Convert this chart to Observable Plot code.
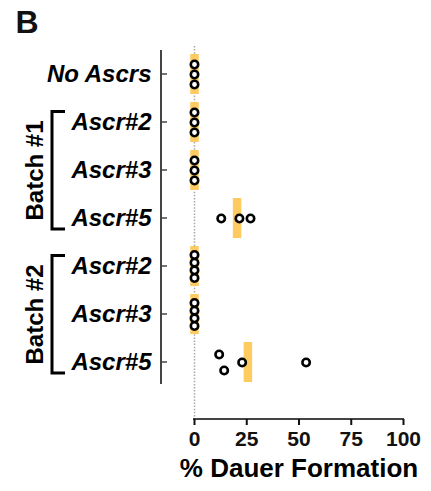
<!DOCTYPE html>
<html><head><meta charset="utf-8">
<script src="https://cdn.jsdelivr.net/npm/d3@7"></script>
<script src="https://cdn.jsdelivr.net/npm/@observablehq/plot@0.6"></script>
<style>body{margin:0;background:#fff} #chart svg{display:block}</style>
</head><body><div id="chart"></div>
<script>
// ---- data ----
const conditions = ["none", "b1-2", "b1-3", "b1-5", "b2-2", "b2-3", "b2-5"];
const conditionLabels = ["No Ascrs", "Ascr#2", "Ascr#3", "Ascr#5", "Ascr#2", "Ascr#3", "Ascr#5"];
const replicateValues = [
  [0, 0, 0],
  [0, 0, 0],
  [0, 0, 0],
  [12.8, 21.5, 26.8],
  [0, 0, 0, 0],
  [0, 0, 0, 0],
  [11.8, 14.2, 22.8, 53.4]
];
const batchNames = ["Batch #1", "Batch #2"];
const batchMembers = [["b1-2", "b1-3", "b1-5"], ["b2-2", "b2-3", "b2-5"]];
const xTicks = [0, 25, 50, 75, 100];
const xLabel = "% Dauer Formation";
const panelLetter = "B";

// ---- derived tables ----
const labelOf = new Map(conditions.map((c, i) => [c, conditionLabels[i]]));
const means = conditions.map((c, i) => ({key: c, mean: d3.mean(replicateValues[i])}));

// simple Prism-like vertical spreading of overlapping points
const points = [];
conditions.forEach((c, i) => {
  const vals = replicateValues[i].slice().sort((a, b) => a - b);
  const clusters = [];
  vals.forEach(v => {
    const last = clusters[clusters.length - 1];
    if (last && v - last[last.length - 1] < 4.5) last.push(v); else clusters.push([v]);
  });
  clusters.forEach(cl => {
    const n = cl.length;
    const gap = n === 1 ? 0 : n === 2 ? 16 : Math.min(10, 23 / (n - 1));
    cl.forEach((v, j) => points.push({key: c, value: v, off: +((j - (n - 1) / 2) * gap).toFixed(2)}));
  });
});
const offsets = Array.from(new Set(points.map(p => p.off)));

const batches = batchNames.map((name, i) => ({
  name, first: batchMembers[i][0], mid: batchMembers[i][1], last: batchMembers[i][batchMembers[i].length - 1]
}));

const font = "'Liberation Sans', Arial, Helvetica, sans-serif";

// custom axis lines & brackets drawn from the plot's scales
function axisLines(index, scales, values, dim) {
  const {x, y} = scales;
  const g = d3.create("svg:g");
  const ml = dim.marginLeft;
  const yAxisX = ml - 33;
  const bw = y.bandwidth();
  const [r0, r1] = y.range();
  g.append("line").attr("x1", yAxisX).attr("x2", yAxisX).attr("y1", r0).attr("y2", r1 - 2)
    .attr("stroke", "#444").attr("stroke-width", 2);
  for (const c of conditions) {
    const cy = y(c) + bw / 2;
    g.append("line").attr("x1", yAxisX).attr("x2", yAxisX + 6).attr("y1", cy).attr("y2", cy)
      .attr("stroke", "#444").attr("stroke-width", 1.5);
  }
  const by = dim.height - dim.marginBottom;
  g.append("line").attr("x1", x(0) - 1).attr("x2", x(100) + 1).attr("y1", by).attr("y2", by)
    .attr("stroke", "#444").attr("stroke-width", 2);
  for (const b of batches) {
    const top = y(b.first) + bw / 2 - 10.5;
    const bot = y(b.last) + bw / 2 + 11;
    const xv = ml - 142, xh = ml - 129;
    g.append("path").attr("d", `M${xh},${top}H${xv}V${bot}H${xh}`)
      .attr("fill", "none").attr("stroke", "#000").attr("stroke-width", 3);
  }
  return g.node();
}

const marks = [
  Plot.ruleX([0], {stroke: "#a8a8a8", strokeWidth: 1.5, strokeDasharray: "1.5,1.6"}),
  Plot.tickX(means, {x: "mean", y: "key", stroke: "#FDCB60", strokeWidth: 8.5}),
  ...offsets.map(o => Plot.dot(points.filter(p => p.off === o), {
    x: "value", y: "key", dy: o, r: 3.7, fill: "#fff", stroke: "#000", strokeWidth: 2.6
  })),
  axisLines,
  Plot.axisX(xTicks, {tickSize: 6, tickPadding: 6, fontSize: 21, fontWeight: "bold", label: null, strokeWidth: 2, color: "#111"}),
  Plot.axisY({tickSize: 0, tickPadding: 43, fontSize: 24, fontWeight: "bold", fontStyle: "italic",
    tickFormat: k => labelOf.get(k), label: null, color: "#000"}),
  Plot.text([xLabel], {frameAnchor: "bottom", dy: 49.5, fontSize: 26, fontWeight: "bold", lineAnchor: "middle", fill: "#000"}),
  Plot.text(batches, {y: "mid", text: "name", frameAnchor: "left", rotate: -90, textAnchor: "middle",
    dx: -159, fontSize: 24, fontWeight: "bold", fill: "#000"}),
  Plot.text([panelLetter], {frameAnchor: "top-left", textAnchor: "start", lineAnchor: "top",
    dx: -179, dy: -36, fontSize: 32, fontWeight: "bold", fill: "#111"})
];

const chart = Plot.plot({
  width: 431,
  height: 491,
  marginLeft: 194,
  marginRight: 28,
  marginTop: 46,
  marginBottom: 72,
  style: {fontFamily: font, background: "#fff", color: "#000", overflow: "visible"},
  x: {domain: [0, 100]},
  y: {type: "band", domain: conditions, range: [50, 386], paddingInner: 1 / 6, paddingOuter: 1 / 12, round: false},
  marks
});
document.getElementById("chart").appendChild(chart);
</script>
</body></html>
